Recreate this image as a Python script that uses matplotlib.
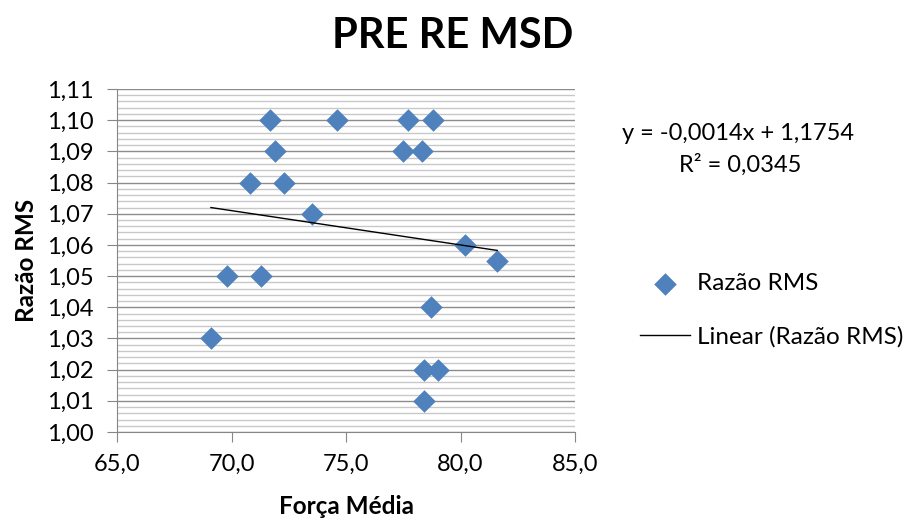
import matplotlib.pyplot as plt
import numpy as np
from matplotlib.ticker import FuncFormatter, MultipleLocator

plt.rcParams['font.family'] = ['Lato', 'DejaVu Sans']

# Força Média vs Razão RMS
forca = [71.7, 74.6, 77.7, 78.8, 71.9, 77.5, 78.3, 70.8, 72.3, 73.5,
         80.2, 81.6, 69.8, 71.3, 78.7, 69.1, 78.4, 79.0, 78.4]
razao = [1.10, 1.10, 1.10, 1.10, 1.09, 1.09, 1.09, 1.08, 1.08, 1.07,
         1.06, 1.055, 1.05, 1.05, 1.04, 1.03, 1.02, 1.02, 1.01]

title = "PRE RE MSD"
eq_text = "y = -0,0014x + 1,1754"
r2_text = "R² = 0,0345"

blue = "#4F81BD"
fs = 17

fig = plt.figure(figsize=(9.1, 5.2), dpi=100)
ax = fig.add_axes([0.1286, 0.1692, 0.5033, 0.6596])

# grid
ax.yaxis.set_major_locator(MultipleLocator(0.01))
ax.yaxis.set_minor_locator(MultipleLocator(0.002))
ax.grid(which="major", axis="y", color="#8C8C8C", lw=1.0)
ax.grid(which="minor", axis="y", color="#C8C8C8", lw=1.0)
ax.set_axisbelow(True)

ax.scatter(forca, razao, marker="D", s=11.5 ** 2, color=blue, zorder=3,
           linewidths=0, label="Razão RMS")

# linear trendline
k, b = np.polyfit(forca, razao, 1)
xs = np.array([min(forca), max(forca)])
ax.plot(xs, k * xs + b, color="black", lw=1, zorder=4, label="Linear (Razão RMS)")

ax.set_xlim(65, 85)
ax.set_ylim(1.00, 1.11)
ax.xaxis.set_major_locator(MultipleLocator(5))
ax.xaxis.set_major_formatter(FuncFormatter(lambda v, p: f"{v:.1f}".replace(".", ",")))
ax.yaxis.set_major_formatter(FuncFormatter(lambda v, p: f"{v:.2f}".replace(".", ",")))

for s in ["top", "right"]:
    ax.spines[s].set_visible(False)
for s in ["left", "bottom"]:
    ax.spines[s].set_color("#868686")
ax.tick_params(which="major", direction="out", length=7, color="#868686",
               labelsize=fs)
ax.tick_params(axis="x", pad=9)
ax.tick_params(axis="y", pad=10)
ax.tick_params(which="minor", left=False)

ax.set_xlabel("Força Média", fontsize=17.5, fontweight="bold", labelpad=14)
ax.set_ylabel("Razão RMS", fontsize=17.5, fontweight="bold", labelpad=6)
fig.suptitle(title, fontsize=30, fontweight="bold", x=0.497, y=0.968)

fig.text(0.684, 0.744, eq_text, fontsize=17, ha="left", va="center")
fig.text(0.813, 0.683, r2_text, fontsize=17, ha="center", va="center")

ax.legend(loc="center left", bbox_to_anchor=(0.679, 0.403), bbox_transform=fig.transFigure,
          frameon=False, fontsize=17.5, handlelength=2.06, labelspacing=1.3,
          handletextpad=0.3, borderpad=0.4)

fig.savefig("out.png", dpi=100)
